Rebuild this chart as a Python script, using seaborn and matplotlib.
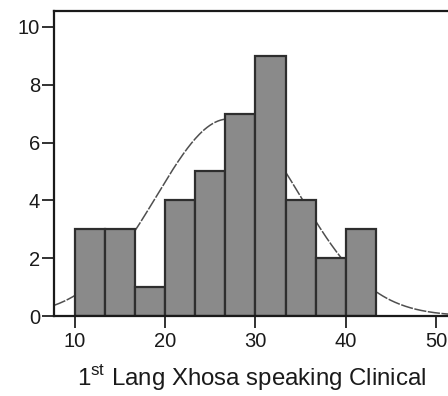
import numpy as np
import pandas as pd
import matplotlib
matplotlib.use("Agg")
import matplotlib.pyplot as plt
import seaborn as sns

# Histogram bins (width 10/3, starting at 10) and their frequencies
bin_start = 10.0
bin_width = 10.0 / 3.0
counts = [3, 3, 1, 4, 5, 7, 9, 4, 2, 3]

# Fitted normal curve parameters
curve_mean = 27.0
curve_sd = 8.0

x_ticks = [10, 20, 30, 40, 50]
y_ticks = [0, 2, 4, 6, 8, 10]
x_label = r"1$^{\mathrm{st}}$ Lang Xhosa speaking Clinical"

sns.set_theme(style="white")
plt.rcParams["font.family"] = ["Liberation Sans", "DejaVu Sans"]
plt.rcParams["mathtext.fontset"] = "custom"
plt.rcParams["mathtext.rm"] = "Liberation Sans"

edges = bin_start + bin_width * np.arange(len(counts) + 1)
mids = (edges[:-1] + edges[1:]) / 2
df = pd.DataFrame({"value": mids, "freq": counts})

fig = plt.figure(figsize=(4.48, 3.96), dpi=100)
ax = fig.add_axes([54 / 448, 1 - 316 / 396, 1 - 54 / 448 + 0.002, (316 - 11) / 396])

xmin, xmax = 7.667, 51.44
ymin, ymax = 0.0, 10.55

# Normal curve scaled to counts
n = sum(counts)
xs = np.linspace(xmin, xmax, 300)
ys = n * bin_width * np.exp(-0.5 * ((xs - curve_mean) / curve_sd) ** 2) / (curve_sd * np.sqrt(2 * np.pi))
sns.lineplot(x=xs, y=ys, ax=ax, color="#4f4f4f", lw=1.1, linestyle=(0, (8, 1.0)), zorder=1)

sns.histplot(data=df, x="value", weights="freq",
             binwidth=bin_width, binrange=(float(edges[0]), float(edges[-1])), ax=ax,
             color="#8a8a8a", edgecolor="#2e2e2e", linewidth=1.6, alpha=1.0, zorder=2)

ax.set_xlim(xmin, xmax)
ax.set_ylim(ymin, ymax)
ax.set_xticks(x_ticks)
ax.set_yticks(y_ticks)
ax.set_ylabel("")
ax.set_xlabel(x_label, fontsize=17.3, color="#1a1a1a", labelpad=8)
ax.tick_params(axis="both", which="both", direction="out", length=8.5, width=1.3,
               color="#222222", labelsize=14.5, labelcolor="#1a1a1a",
               bottom=True, left=True)
ax.tick_params(axis="x", pad=3)
ax.tick_params(axis="y", pad=1.5)
for side in ["left", "top", "bottom"]:
    ax.spines[side].set_color("#1a1a1a")
    ax.spines[side].set_linewidth(1.6)
ax.spines["right"].set_visible(False)
ax.set_facecolor("white")

fig.savefig("out.png", dpi=100)
